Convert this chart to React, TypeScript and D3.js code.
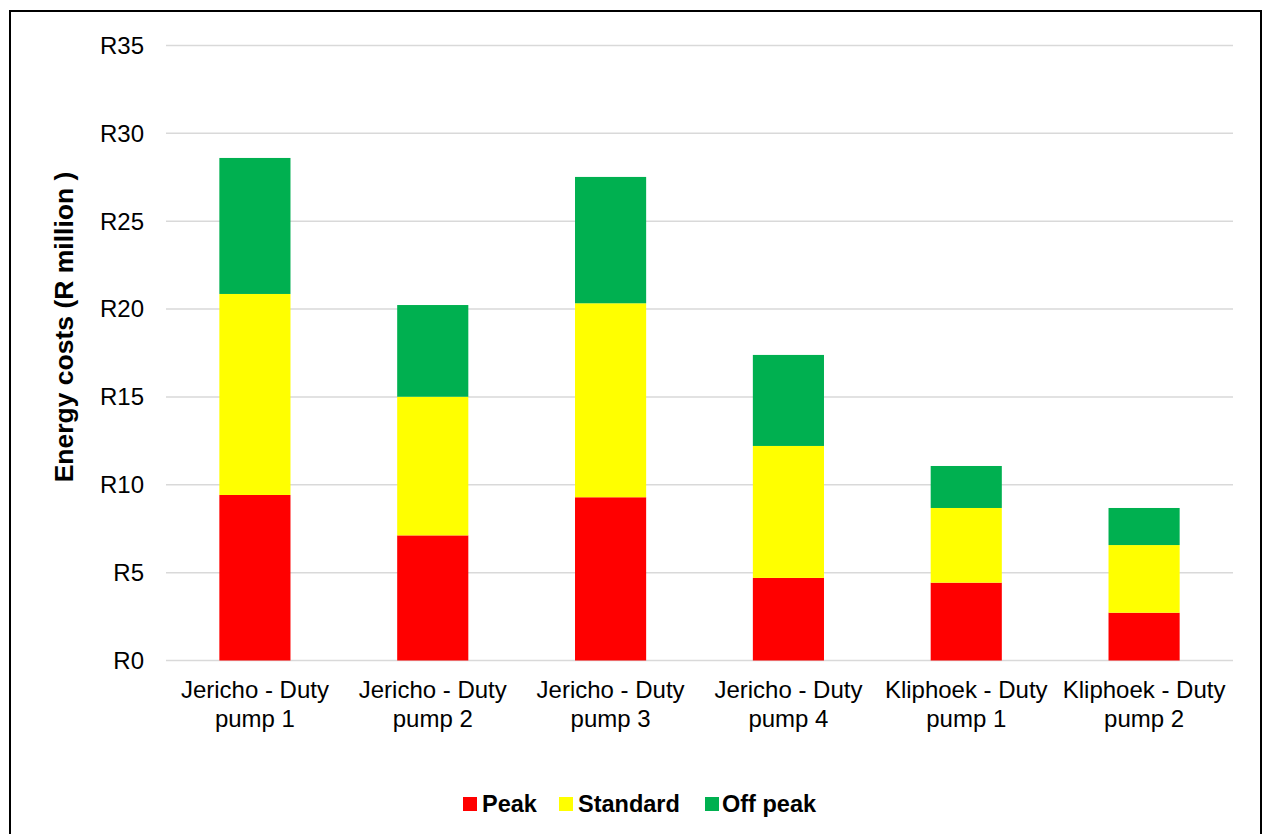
import React from "react";
import * as d3 from "d3";

// Pumping stations and their annual energy cost split by tariff period (R million)
const categories: string[][] = [
  ["Jericho - Duty", "pump 1"],
  ["Jericho - Duty", "pump 2"],
  ["Jericho - Duty", "pump 3"],
  ["Jericho - Duty", "pump 4"],
  ["Kliphoek - Duty", "pump 1"],
  ["Kliphoek - Duty", "pump 2"],
];
const peak = [9.42, 7.12, 9.29, 4.7, 4.43, 2.72];
const standard = [11.44, 7.89, 11.04, 7.51, 4.25, 3.85];
const offPeak = [7.74, 5.22, 7.19, 5.18, 2.39, 2.11];
const seriesNames = ["Peak", "Standard", "Off peak"];
const seriesColors = ["#FF0000", "#FFFF00", "#00B050"];
const yTicks = [0, 5, 10, 15, 20, 25, 30, 35];

const W = 1264;
const H = 834;
const FONT = "'Liberation Sans', Arial, sans-serif";

export default function App() {
  const keys = categories.map((c) => c.join(" "));
  const rows = keys.map((k, i) => ({
    key: k,
    Peak: peak[i],
    Standard: standard[i],
    "Off peak": offPeak[i],
  }));
  const stacked = d3.stack<any>().keys(seriesNames)(rows);

  const x = d3
    .scaleBand<string>()
    .domain(keys)
    .range([166, 1233])
    .paddingInner(0.6)
    .paddingOuter(0.3);
  const y = d3.scaleLinear().domain([0, 35]).range([660.5, 45.5]);

  const legendItems = [
    { sq: 463, tx: 482 },
    { sq: 559, tx: 578 },
    { sq: 705, tx: 722 },
  ];

  return (
    <div style={{ position: "fixed", left: 0, top: 0 }}>
      <svg width={W} height={H} style={{ display: "block", background: "#fff" }}>
        <rect x={0} y={0} width={W} height={H} fill="#fff" />
        {/* chart frame */}
        <rect x={10} y={11} width={1251} height={H + 20} fill="none" stroke="#000" strokeWidth={2} />

        {/* gridlines */}
        {yTicks.map((t) => (
          <line key={t} x1={166} x2={1233} y1={y(t)} y2={y(t)} stroke="#D9D9D9" strokeWidth={1.5} />
        ))}

        {/* y tick labels */}
        {yTicks.map((t) => (
          <text
            key={"l" + t}
            x={144}
            y={y(t)}
            dy="0.35em"
            textAnchor="end"
            fontFamily={FONT}
            fontSize={24}
            fill="#000"
          >
            {"R" + t}
          </text>
        ))}

        {/* stacked bars */}
        {stacked.map((s, si) => (
          <g key={s.key} fill={seriesColors[si]}>
            {s.map((d, i) => (
              <rect
                key={i}
                x={x(keys[i])!}
                y={y(d[1])}
                width={x.bandwidth()}
                height={y(d[0]) - y(d[1])}
              />
            ))}
          </g>
        ))}

        {/* category labels */}
        {categories.map((lines, i) => (
          <text
            key={"c" + i}
            x={x(keys[i])! + x.bandwidth() / 2}
            textAnchor="middle"
            fontFamily={FONT}
            fontSize={24}
            fill="#000"
          >
            {lines.map((ln, j) => (
              <tspan key={j} x={x(keys[i])! + x.bandwidth() / 2} y={698 + j * 28.5}>
                {ln}
              </tspan>
            ))}
          </text>
        ))}

        {/* y axis title */}
        <text
          transform={`translate(73, ${327}) rotate(-90)`}
          textAnchor="middle"
          fontFamily={FONT}
          fontSize={26.5}
          fontWeight="bold"
          fill="#000"
        >
          Energy costs (R million )
        </text>

        {/* legend */}
        {seriesNames.map((n, i) => (
          <g key={n}>
            <rect x={legendItems[i].sq} y={797} width={14} height={14} fill={seriesColors[i]} />
            <text
              x={legendItems[i].tx}
              y={811.5}
              fontFamily={FONT}
              fontSize={23.5}
              fontWeight="bold"
              fill="#000"
            >
              {n}
            </text>
          </g>
        ))}
      </svg>
    </div>
  );
}
